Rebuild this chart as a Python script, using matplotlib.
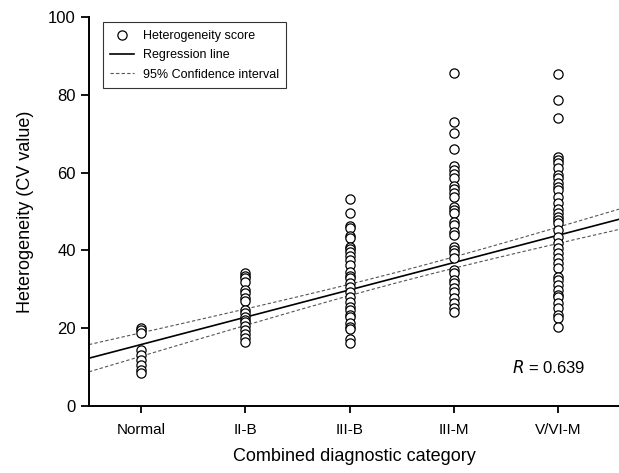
import numpy as np
import matplotlib.pyplot as plt

plt.rcParams['font.family'] = ['Liberation Sans', 'DejaVu Sans']

categories = ["Normal", "II-B", "III-B", "III-M", "V/VI-M"]

normal = [20.1, 19.5, 18.8, 14.4, 13.1, 11.8, 10.5, 9.3, 8.5]
ii_b = [34.2, 33.5, 32.9, 32.0, 29.8, 29.0, 27.7, 27.0, 24.7, 23.8, 23.0,
        22.2, 21.7, 20.5, 19.5, 18.5, 17.4, 16.5]
iii_b = [53.1, 49.7, 46.3, 45.8, 43.7, 43.1, 41.0, 40.3, 39.7, 38.6, 37.5,
         36.2, 34.5, 33.4, 32.8, 31.5, 30.7, 29.4, 28.1, 26.8, 25.5, 24.7,
         23.4, 23.0, 21.3, 20.4, 19.7, 17.1, 16.1]
iii_m = [85.5, 73.1, 70.3, 66.0, 61.7, 60.7, 59.6, 58.5, 56.6, 55.7, 54.7,
         53.8, 51.2, 50.4, 49.5, 47.4, 46.5, 44.8, 44.0, 41.0, 40.1, 39.3,
         38.0, 35.0, 34.1, 32.4, 31.5, 30.3, 29.4, 27.7, 26.4, 25.1, 24.2]
v_vi_m = [85.3, 78.7, 74.1, 63.9, 63.2, 62.4, 61.1, 59.4, 58.5, 57.2, 56.4,
          55.5, 53.8, 52.1, 50.6, 49.5, 48.7, 47.8, 47.0, 45.2, 43.5, 41.8,
          40.5, 39.3, 38.0, 36.7, 35.4, 33.2, 32.4, 31.1, 29.8, 28.5, 28.1,
          26.4, 25.1, 23.4, 22.5, 20.4]
groups = [normal, ii_b, iii_b, iii_m, v_vi_m]

# regression line and 95% CI
intercept = 15.8
slope = 7.02
ci_min = 1.35
ci_center = 2.51
ci_k = 1.151
r_value = 0.639

fig = plt.figure(figsize=(6.19, 4.73), dpi=100)
ax = fig.add_axes([89 / 619, 67 / 473, 1 - 89 / 619, 389 / 473])

xmin, xmax = -0.5, 4.586
xl = np.linspace(xmin, xmax, 200)
yl = intercept + slope * xl
half = np.sqrt(ci_min ** 2 + ci_k * (xl - ci_center) ** 2)

for i, g in enumerate(groups):
    ax.scatter(np.full(len(g), i), g, s=44, facecolors='white',
               edgecolors='black', linewidths=0.9, zorder=3,
               label="Heterogeneity score" if i == 0 else None)

ax.plot(xl, yl, color='black', lw=1.2, label="Regression line", zorder=2)
ax.plot(xl, yl + half, color='#555555', lw=0.8, ls=(0, (3, 2)),
        label="95% Confidence interval", zorder=2)
ax.plot(xl, yl - half, color='#555555', lw=0.8, ls=(0, (3, 2)), zorder=2)

ax.set_xlim(xmin, xmax)
ax.set_ylim(0, 100)
ax.set_xticks(range(len(categories)))
ax.set_xticklabels(categories, fontsize=11)
ax.set_yticks([0, 20, 40, 60, 80, 100])
ax.tick_params(axis='y', labelsize=12, length=6, width=1.3, direction='out')
ax.tick_params(axis='x', length=5, width=1.3, direction='out', pad=7.5)
ax.spines['top'].set_visible(False)
ax.spines['right'].set_visible(False)
ax.spines['left'].set_linewidth(1.4)
ax.spines['bottom'].set_linewidth(1.4)

ax.set_xlabel("Combined diagnostic category", fontsize=13, labelpad=8)
ax.set_ylabel("Heterogeneity (CV value)", fontsize=13, labelpad=10)

ax.text(0.798, 0.10, r"$\it{R}$ = " + f"{r_value:.3f}", transform=ax.transAxes,
        fontsize=12, ha='left', va='center')

leg = ax.legend(loc='upper left', bbox_to_anchor=(0.026, 0.987), fontsize=9,
                frameon=True, fancybox=False, edgecolor='black',
                handlelength=1.9, handletextpad=0.7, borderpad=0.6,
                borderaxespad=0.0, labelspacing=0.6)
leg.get_frame().set_linewidth(0.8)

fig.savefig("out.png", dpi=100)
